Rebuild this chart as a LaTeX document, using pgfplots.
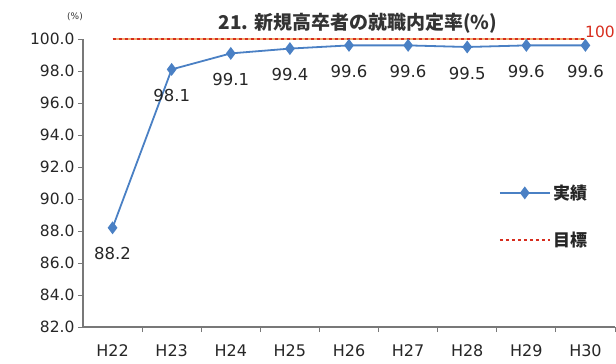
\documentclass[border=0pt]{standalone}
\usepackage{pgfplots}
\pgfplotsset{compat=1.18}
\usepackage{fontspec}
\setmainfont{DejaVu Sans}
\newfontfamily\cjk{Noto Sans CJK JP}
\definecolor{serblue}{RGB}{74,128,196}
\definecolor{tgtred}{RGB}{215,45,30}
\definecolor{tgtorange}{RGB}{240,170,110}
\definecolor{axgray}{RGB}{120,120,120}
\begin{document}
\begin{tikzpicture}[x=1pt,y=1pt]
\path[use as bounding box] (0,0) rectangle (616,364);
\node[font=\cjk\bfseries\fontsize{19}{21}\selectfont, text=black!80] at (358,341) {21. 新規高卒者の就職内定率(\%)};
\node[font=\fontsize{9}{10}\selectfont, text=black!80] at (75,347) {(\%)};
\begin{axis}[
  at={(83pt,37pt)}, anchor=south west,
  scale only axis, width=532pt, height=288pt,
  clip=false,
  xmin=-0.5, xmax=8.5, ymin=82, ymax=100,
  axis x line=bottom, axis y line=left,
  axis line style={-, axgray, line width=1.2pt},
  xtick={0,...,8},
  xticklabels={H22,H23,H24,H25,H26,H27,H28,H29,H30},
  major x tick style={draw=none},
  minor xtick={0.5,1.5,...,8.5},
  minor x tick style={axgray, line width=0.8pt},
  minor tick length=5pt,
  ytick={82,84,...,100},
  y tick style={axgray, line width=0.8pt},
  major tick length=5pt,
  tick align=outside,
  yticklabel style={/pgf/number format/.cd, fixed, fixed zerofill, precision=1, assume math mode=true},
  ticklabel style={font=\fontsize{15.5}{17}\selectfont, text=black!85},
  xticklabel style={yshift=-9pt, font=\fontsize{16}{18}\selectfont},
  legend style={at={(0.775,0.508)}, anchor=north west, draw=none, fill=none,
    font=\cjk\bfseries\fontsize{17}{19}\selectfont, row sep=27pt, text=black!85},
  legend cell align=left,
  legend image code/.code={\draw[mark repeat=2,mark phase=2,#1] plot coordinates {(0pt,0pt) (25pt,0pt) (50pt,0pt)};},
]
\addplot[tgtorange, line width=2.6pt, forget plot] coordinates {(0,100) (8,100)};
\addplot[serblue, line width=1.8pt, mark=diamond*, mark size=5pt, mark options={fill=serblue, draw=serblue},
  nodes near coords, point meta=explicit symbolic,
  every node near coord/.append style={font=\fontsize{16.5}{18}\selectfont, text=black!85, anchor=center, yshift=-26pt}]
  table[meta=label] {
x y label
0 88.2 88.2
1 98.1 98.1
2 99.1 99.1
3 99.4 99.4
4 99.6 99.6
5 99.6 99.6
6 99.5 99.5
7 99.6 99.6
8 99.6 99.6
};
\addlegendentry{実績}
\addplot[tgtred, line width=2.6pt, dash pattern=on 3pt off 3pt] coordinates {(0,100) (8,100)};
\addlegendentry{目標}
\end{axis}
\node[anchor=east, text=tgtred, font=\fontsize{15.5}{17}\selectfont, inner sep=0pt] at (615,332) {100};
\end{tikzpicture}
\end{document}
